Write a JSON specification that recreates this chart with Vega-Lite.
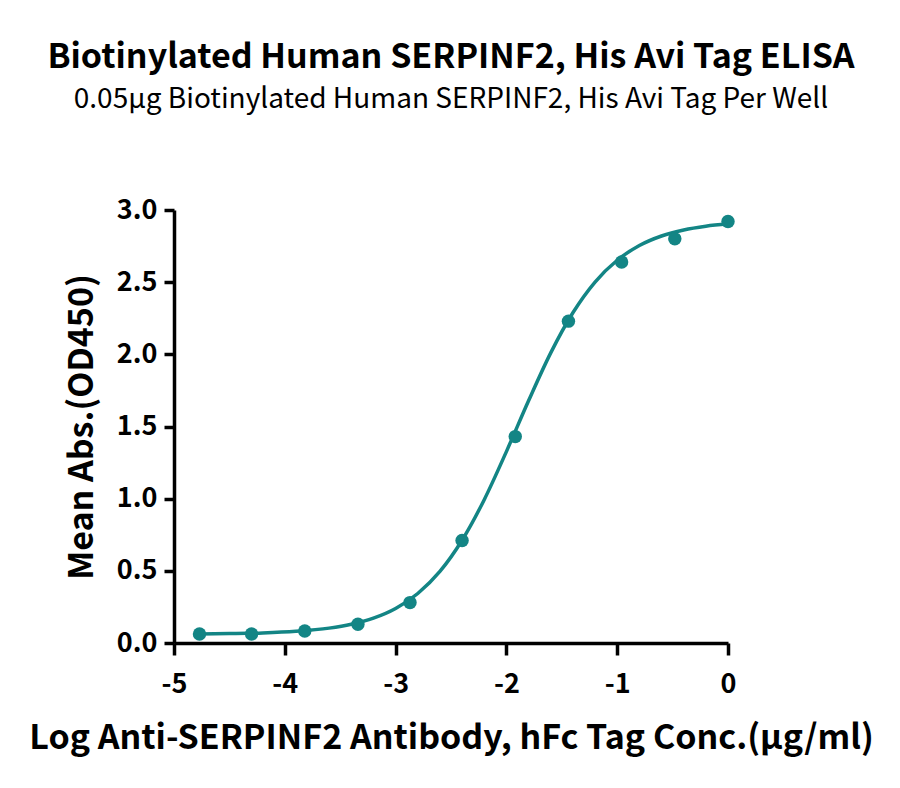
{
  "$schema": "https://vega.github.io/schema/vega-lite/v6.json",
  "autosize": "none",
  "width": 554,
  "height": 433,
  "padding": {"left": 174, "top": 210, "right": 172, "bottom": 145},
  "background": "white",
  "config": {
    "font": "Noto Sans CJK SC",
    "view": {"stroke": null}
  },
  "title": {
    "text": "Biotinylated Human SERPINF2, His Avi Tag ELISA",
    "subtitle": "0.05µg Biotinylated Human SERPINF2, His Avi Tag Per Well",
    "anchor": "middle",
    "fontSize": 34,
    "fontWeight": "bold",
    "color": "black",
    "subtitleFontSize": 28,
    "subtitleFontWeight": "normal",
    "subtitleColor": "black",
    "subtitlePadding": 11,
    "offset": 82
  },
  "datasets": {
    "points": [
      {"x": -4.77, "y": 0.062},
      {"x": -4.3, "y": 0.062},
      {"x": -3.82, "y": 0.083},
      {"x": -3.34, "y": 0.13},
      {"x": -2.87, "y": 0.28},
      {"x": -2.4, "y": 0.71},
      {"x": -1.92, "y": 1.43},
      {"x": -1.44, "y": 2.23},
      {"x": -0.96, "y": 2.64},
      {"x": -0.48, "y": 2.8},
      {"x": 0, "y": 2.92}
    ],
    "curve": [
      {"x": -4.77, "y": 0.062},
      {"x": -4.5, "y": 0.065},
      {"x": -4.2, "y": 0.07},
      {"x": -3.9, "y": 0.081},
      {"x": -3.6, "y": 0.103},
      {"x": -3.4, "y": 0.13},
      {"x": -3.2, "y": 0.172},
      {"x": -3.0, "y": 0.239},
      {"x": -2.8, "y": 0.343},
      {"x": -2.6, "y": 0.496},
      {"x": -2.4, "y": 0.712},
      {"x": -2.2, "y": 0.993},
      {"x": -2.0, "y": 1.326},
      {"x": -1.8, "y": 1.678},
      {"x": -1.6, "y": 2.01},
      {"x": -1.4, "y": 2.288},
      {"x": -1.2, "y": 2.501},
      {"x": -1.0, "y": 2.652},
      {"x": -0.8, "y": 2.754},
      {"x": -0.6, "y": 2.82},
      {"x": -0.4, "y": 2.862},
      {"x": -0.2, "y": 2.888},
      {"x": 0, "y": 2.904}
    ]
  },
  "encoding": {
    "x": {
      "field": "x",
      "type": "quantitative",
      "scale": {"domain": [-5, 0], "nice": false, "zero": false},
      "axis": {
        "title": "Log Anti-SERPINF2 Antibody, hFc Tag Conc.(µg/ml)",
        "values": [-5, -4, -3, -2, -1, 0],
        "labelExpr": "datum.value + ''",
        "grid": false,
        "domainColor": "black",
        "domainWidth": 3.5,
        "tickColor": "black",
        "tickWidth": 3.5,
        "tickSize": 12,
        "labelFontSize": 27,
        "labelFontWeight": "bold",
        "labelColor": "black",
        "labelPadding": 16,
        "labelFlush": false,
        "titleFontSize": 34,
        "titleFontWeight": "bold",
        "titleColor": "black",
        "titlePadding": 24
      }
    },
    "y": {
      "field": "y",
      "type": "quantitative",
      "scale": {"domain": [0, 3], "nice": false},
      "axis": {
        "title": "Mean Abs.(OD450)",
        "values": [0, 0.5, 1, 1.5, 2, 2.5, 3],
        "format": ".1f",
        "grid": false,
        "domainColor": "black",
        "domainWidth": 3.5,
        "tickColor": "black",
        "tickWidth": 3.5,
        "tickSize": 10,
        "labelFontSize": 27,
        "labelFontWeight": "bold",
        "labelColor": "black",
        "labelPadding": 7,
        "labelFlush": false,
        "titleFontSize": 34,
        "titleFontWeight": "bold",
        "titleColor": "black",
        "titlePadding": 17
      }
    }
  },
  "layer": [
    {
      "data": {"name": "curve"},
      "mark": {"type": "line", "color": "#138585", "strokeWidth": 3.5, "interpolate": "monotone"}
    },
    {
      "data": {"name": "points"},
      "mark": {"type": "point", "filled": true, "color": "#138585", "opacity": 1, "size": 180}
    }
  ]
}
